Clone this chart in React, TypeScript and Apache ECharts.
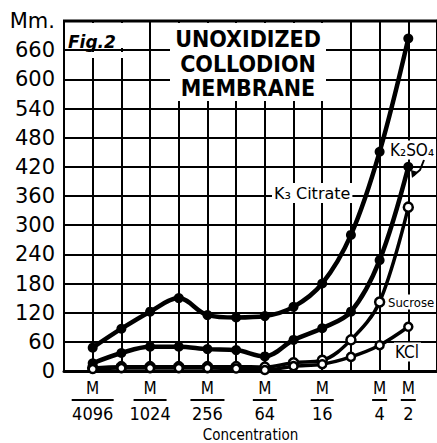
import React, { useEffect, useRef } from "react";
import * as echarts from "echarts";

// x positions: log2 of molar concentration (M/4096 = 2^-12 ... M/2 = 2^-1)
const xLog2 = [-12, -11, -10, -9, -8, -7, -6, -5, -4, -3, -2, -1];
const citrate = [48, 87, 122, 150, 115, 110, 113, 132, 180, 280, 451, 684];
const k2so4 = [16, 37, 50, 50, 45, 43, 30, 64, 88, 122, 228, 420];
const sucrose = [6, 9, 9, 9, 9, 9, 8, 17, 22, 64, 142, 337];
const kcl = [4, 6, 6, 6, 6, 5, 2, 10, 14, 29, 53, 91];

const tickValues = [-12, -10, -8, -6, -4, -2, -1];
const tickDenoms = ["4096", "1024", "256", "64", "16", "4", "2"];
const barStyles = ["b42", "b33", "b34", "b24", "b23", "b15", "b15"];

const zip = (ys: number[]) => xLog2.map((x, i) => [x, ys[i]]);

export default function App() {
  const ref = useRef<HTMLDivElement>(null);
  useEffect(() => {
    if (!ref.current) return;
    const chart = echarts.init(ref.current, null, { renderer: "svg" });
    const bar = (w: number) => ({ width: w, height: 2, backgroundColor: "#000", lineHeight: 6 });
    const lineSeries = (name: string, ys: number[], width: number, size: number, open: boolean) => ({
      name,
      type: "line",
      data: zip(ys),
      smooth: 0.35,
      symbol: "circle",
      symbolSize: size,
      lineStyle: { color: "#000", width },
      itemStyle: open
        ? { color: "#fff", borderColor: "#000", borderWidth: 2.5 }
        : { color: "#000" },
      z: 3,
    });
    chart.setOption({
      animation: false,
      backgroundColor: "#fff",
      grid: { left: 64, right: 0, top: 21, bottom: 72, outerBoundsMode: "none", containLabel: false },
      xAxis: {
        type: "value",
        min: -13,
        max: 0,
        interval: 1,
        axisLine: { show: true, onZero: false, lineStyle: { color: "#000", width: 3 } },
        axisTick: { show: false },
        splitLine: { show: true, lineStyle: { color: "#000", width: 2 } },
        axisLabel: {
          interval: 0,
          margin: 8,
          hideOverlap: false,
          color: "#000",
          formatter: (v: number) => {
            const i = tickValues.indexOf(v);
            if (i < 0) return "";
            return `{m|M}\n{${barStyles[i]}|}\n{d|${tickDenoms[i]}}`;
          },
          rich: {
            m: { fontSize: 17, fontFamily: "DejaVu Sans Condensed", color: "#000", lineHeight: 18 },
            d: { fontSize: 18, fontFamily: "DejaVu Sans Condensed", color: "#000", lineHeight: 21 },
            b42: bar(42),
            b33: bar(33),
            b34: bar(34),
            b24: bar(24),
            b23: bar(23),
            b15: bar(15),
          },
        },
        name: "Concentration",
        nameLocation: "middle",
        nameGap: 53,
        nameTextStyle: { fontSize: 15, fontFamily: "DejaVu Sans Condensed", color: "#000" },
      },
      yAxis: {
        type: "value",
        min: 0,
        max: 720,
        interval: 60,
        axisLine: { show: true, lineStyle: { color: "#000", width: 3 } },
        axisTick: { show: false },
        splitLine: { show: true, lineStyle: { color: "#000", width: 2 } },
        axisLabel: {
          margin: 9,
          color: "#000",
          fontSize: 21,
          fontFamily: "DejaVu Sans",
          formatter: (v: number) => (v === 720 ? "Mm." : String(v)),
        },
      },
      series: [
        lineSeries("K3 Citrate", citrate, 4.5, 10, false),
        lineSeries("K2SO4", k2so4, 4.5, 10, false),
        lineSeries("Sucrose", sucrose, 3.5, 9, true),
        lineSeries("KCl", kcl, 3.5, 8, true),
      ],
      graphic: [
        { type: "line", z: 10, shape: { x1: 63, y1: 21, x2: 437, y2: 21 }, style: { stroke: "#000", lineWidth: 3 } },
        { type: "rect", z: 5, shape: { x: 66, y: 23, width: 82, height: 25 }, style: { fill: "#fff" } },
        { type: "rect", z: 5, shape: { x: 66, y: 52, width: 82, height: 6 }, style: { fill: "#fff" } },
        { type: "rect", z: 5, shape: { x: 170, y: 23, width: 156, height: 78 }, style: { fill: "#fff" } },
        {
          type: "text", z: 6, x: 68, y: 42,
          style: { text: "Fig.2", fill: "#000", font: 'italic bold 17px "DejaVu Sans"', align: "left", verticalAlign: "middle" },
        },
        {
          type: "text", z: 6, x: 248, y: 27,
          style: {
            text: "UNOXIDIZED\nCOLLODION\nMEMBRANE", fill: "#000",
            font: 'bold 23px "DejaVu Sans Condensed"', lineHeight: 24.5, align: "center", verticalAlign: "top",
          },
        },
        {
          type: "text", z: 6, x: 272, y: 193,
          style: {
            text: "K₃ Citrate", fill: "#000", font: '16px "DejaVu Sans"', align: "left", verticalAlign: "middle",
            backgroundColor: "#fff", padding: [2, 2, 2, 2],
          },
        },
        {
          type: "text", z: 6, x: 389, y: 150,
          style: {
            text: "K₂SO₄", fill: "#000", font: '17px "DejaVu Sans Condensed"', align: "left", verticalAlign: "middle",
            backgroundColor: "#fff", padding: [1, 2, 1, 1],
          },
        },
        {
          type: "text", z: 6, x: 387, y: 302,
          style: {
            text: "Sucrose", fill: "#000", font: '13px "DejaVu Sans Condensed"', align: "left", verticalAlign: "middle",
            backgroundColor: "#fff", padding: [1, 1, 1, 1],
          },
        },
        {
          type: "text", z: 6, x: 394, y: 352,
          style: {
            text: "KCl", fill: "#000", font: '17px "DejaVu Sans Condensed"', align: "left", verticalAlign: "middle",
            backgroundColor: "#fff", padding: [1, 2, 1, 1],
          },
        },
        {
          type: "polyline", z: 7,
          shape: { points: [[424, 160], [420, 170], [413, 176]] },
          style: { stroke: "#000", lineWidth: 2, fill: null },
        },
        {
          type: "polygon", z: 7,
          shape: { points: [[411, 170], [418, 172], [412, 178]] },
          style: { fill: "#000" },
        },
      ],
    });
    return () => chart.dispose();
  }, []);
  return (
    <div
      ref={ref}
      style={{ position: "fixed", left: 0, top: 0, width: 437, height: 443, background: "#fff" }}
    />
  );
}
